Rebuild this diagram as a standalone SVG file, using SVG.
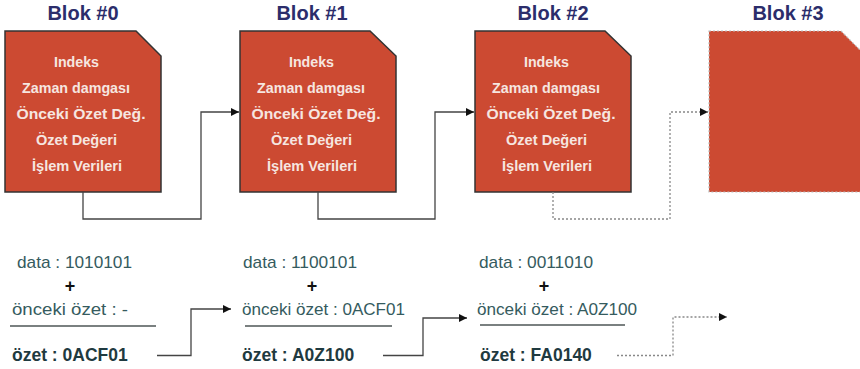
<svg xmlns="http://www.w3.org/2000/svg" width="860" height="369" viewBox="0 0 860 369">
<style>
.title{font-family:"Liberation Sans",Arial,sans-serif;font-weight:bold;font-size:20px;fill:#2b2d6b;text-anchor:middle}
.box{fill:#cc4a32;stroke:#333;stroke-width:1.5}
.box3{fill:#cc4a32;stroke:#bbb;stroke-width:1.2;stroke-dasharray:2 2}
.in{font-family:"Liberation Sans",Arial,sans-serif;font-weight:bold;font-size:14px;fill:#f6e6e0;text-anchor:middle}
.t{font-family:"Liberation Sans",Arial,sans-serif;font-size:17px;fill:#355b5e}
.b{font-family:"Liberation Sans",Arial,sans-serif;font-size:17.5px;font-weight:bold;fill:#1f3a40}
.plus{font-family:"Liberation Sans",Arial,sans-serif;font-size:18px;font-weight:bold;fill:#111;text-anchor:middle}
.ul{stroke:#7a8080;stroke-width:2}
.c{fill:none;stroke:#444;stroke-width:1.3}
.d{fill:none;stroke:#888;stroke-width:1.3;stroke-dasharray:2 2}
</style>
<defs>
<marker id="ah" viewBox="0 0 10 10" refX="10" refY="5" markerWidth="8" markerHeight="8" markerUnits="userSpaceOnUse" orient="auto">
<path d="M0,0 L10,5 L0,10 z" fill="#111"/>
</marker>
</defs>

<g id="blok0">
<text class="title" x="83" y="20">Blok #0</text>
<polygon class="box" points="5,31 136,31 161,56 161,192 5,192"/>
<text class="in" x="76.5" y="67" textLength="45" lengthAdjust="spacingAndGlyphs">Indeks</text>
<text class="in" x="76" y="93" textLength="108" lengthAdjust="spacingAndGlyphs">Zaman damgası</text>
<text class="in" x="81" y="119" textLength="129" lengthAdjust="spacingAndGlyphs">Önceki Özet Değ.</text>
<text class="in" x="76.5" y="145" textLength="81" lengthAdjust="spacingAndGlyphs">Özet Değeri</text>
<text class="in" x="77" y="171" textLength="90" lengthAdjust="spacingAndGlyphs">İşlem Verileri</text>
</g>

<g id="blok1">
<text class="title" x="312" y="20">Blok #1</text>
<polygon class="box" points="240,31 370,31 396,56 396,192 240,192"/>
<text class="in" x="311.5" y="67" textLength="45" lengthAdjust="spacingAndGlyphs">Indeks</text>
<text class="in" x="311" y="93" textLength="108" lengthAdjust="spacingAndGlyphs">Zaman damgası</text>
<text class="in" x="316" y="119" textLength="129" lengthAdjust="spacingAndGlyphs">Önceki Özet Değ.</text>
<text class="in" x="311.5" y="145" textLength="81" lengthAdjust="spacingAndGlyphs">Özet Değeri</text>
<text class="in" x="312" y="171" textLength="90" lengthAdjust="spacingAndGlyphs">İşlem Verileri</text>
</g>

<g id="blok2">
<text class="title" x="553" y="20">Blok #2</text>
<polygon class="box" points="475,31 605,31 631,56 631,192 475,192"/>
<text class="in" x="546.5" y="67" textLength="45" lengthAdjust="spacingAndGlyphs">Indeks</text>
<text class="in" x="546" y="93" textLength="108" lengthAdjust="spacingAndGlyphs">Zaman damgası</text>
<text class="in" x="551" y="119" textLength="129" lengthAdjust="spacingAndGlyphs">Önceki Özet Değ.</text>
<text class="in" x="546.5" y="145" textLength="81" lengthAdjust="spacingAndGlyphs">Özet Değeri</text>
<text class="in" x="547" y="171" textLength="90" lengthAdjust="spacingAndGlyphs">İşlem Verileri</text>
</g>

<g id="blok3">
<text class="title" x="788" y="20">Blok #3</text>
<polygon class="box3" points="709,31 841,31 866,56 866,192 709,192"/>
</g>

<g id="hesap0">
<text class="t" x="17" y="268" textLength="115" lengthAdjust="spacingAndGlyphs">data : 1010101</text>
<text class="plus" x="70" y="292">+</text>
<text class="t" x="12" y="315" textLength="116" lengthAdjust="spacingAndGlyphs">önceki özet : -</text>
<line class="ul" x1="10" y1="326" x2="156" y2="326"/>
<text class="b" x="12" y="361">özet : 0ACF01</text>
</g>

<g id="hesap1">
<text class="t" x="243" y="268" textLength="114" lengthAdjust="spacingAndGlyphs">data : 1100101</text>
<text class="plus" x="312" y="292">+</text>
<text class="t" x="242" y="315" textLength="163" lengthAdjust="spacingAndGlyphs">önceki özet : 0ACF01</text>
<line class="ul" x1="245" y1="326" x2="392" y2="326"/>
<text class="b" x="242" y="361">özet : A0Z100</text>
</g>

<g id="hesap2">
<text class="t" x="479" y="268" textLength="114" lengthAdjust="spacingAndGlyphs">data : 0011010</text>
<text class="plus" x="544" y="292">+</text>
<text class="t" x="477" y="315" textLength="160" lengthAdjust="spacingAndGlyphs">önceki özet : A0Z100</text>
<line class="ul" x1="480" y1="325" x2="625" y2="325"/>
<text class="b" x="480" y="361">özet : FA0140</text>
</g>

<g id="connectors">
<path class="c" d="M83,192 V219 H201 V112 H239" marker-end="url(#ah)"/>
<path class="c" d="M318,192 V219 H435 V112 H474" marker-end="url(#ah)"/>
<path class="d" d="M553,192 V219 H670 V112 H708" marker-end="url(#ah)"/>
<path class="c" d="M157,355.5 H191 V309 H231" marker-end="url(#ah)"/>
<path class="c" d="M383,355.5 H423 V318 H467" marker-end="url(#ah)"/>
<path class="d" d="M617,355.5 H673 V317 H727" marker-end="url(#ah)"/>
</g>
</svg>
